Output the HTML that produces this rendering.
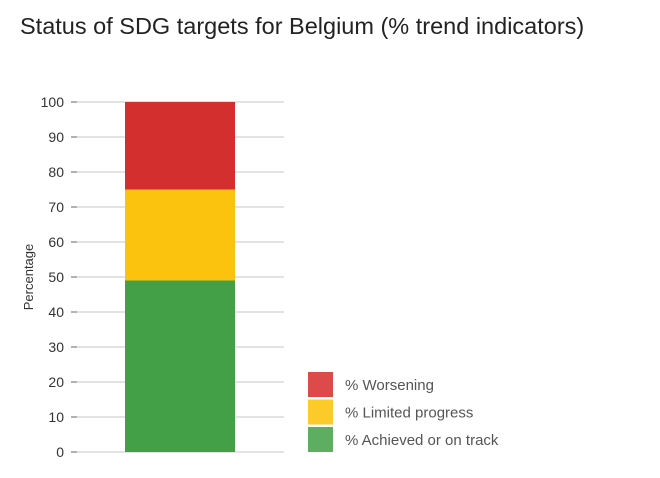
<!DOCTYPE html>
<html><head><meta charset="utf-8"><style>
body{margin:0;background:#fff;font-family:"Liberation Sans",sans-serif;}
</style></head><body>
<svg width="660" height="473" xmlns="http://www.w3.org/2000/svg">
<text x="20" y="34" font-size="23.5" fill="#222">Status of SDG targets for Belgium (% trend indicators)</text>
<g id="axis"></g>
<g id="bars"></g>
<text transform="translate(33,277) rotate(-90)" text-anchor="middle" font-size="13" fill="#333">Percentage</text>
<g id="legend"></g>
</svg>
<script>
const ticks=[0,10,20,30,40,50,60,70,80,90,100];
const seriesNames=["% Achieved or on track","% Limited progress","% Worsening"];
const seriesValues=[49,26,25];
const colors=["#43a047","#fbc30d","#d32f2f"];
const legendColors=["#5eae62","#fccb2a","#dc4a4a"];
const NS="http://www.w3.org/2000/svg";
const y0=452,y1=102,yMax=100;
const y=v=>y0-(v/yMax)*(y0-y1);
function mk(t,a,p){const e=document.createElementNS(NS,t);for(const k in a)e.setAttribute(k,a[k]);p.appendChild(e);return e;}
const ax=document.getElementById('axis');
ticks.forEach(t=>{
 const l=mk('line',{x1:77,x2:284,y1:y(t),y2:y(t),stroke:'#e3e3e3','stroke-width':2},ax);
 
 
 const tk=mk('line',{x1:71,x2:77,y1:y(t),y2:y(t),stroke:'#999','stroke-width':1.5},ax);
 
 
 const tx=mk('text',{x:64,y:y(t)+5,'text-anchor':'end','font-size':14,fill:'#333'},ax);
 tx.textContent=t;
 
 
});
const bg=document.getElementById('bars');
let acc=0;
seriesValues.forEach((v,i)=>{
 const r=mk('rect',{x:125,width:110,y:y(acc+v),height:y(acc)-y(acc+v),fill:colors[i]},bg);
 
 
 acc+=v;
});
const lg=document.getElementById('legend');
[2,1,0].forEach((si,j)=>{
 const yy=372+j*27.5;
 const r=mk('rect',{x:308,y:yy,width:25,height:25,fill:legendColors[si]},lg);
 
 
 const t=mk('text',{x:345,y:yy+18,'font-size':15,fill:'#555'},lg);
 t.textContent=seriesNames[si];
 
 
});
</script>
</body></html>
